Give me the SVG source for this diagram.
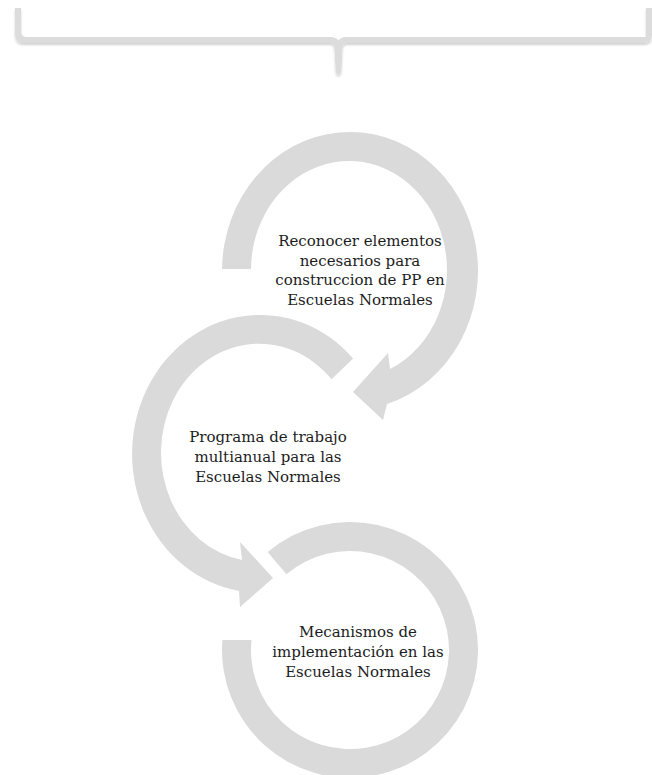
<svg xmlns="http://www.w3.org/2000/svg" width="652" height="775" viewBox="0 0 652 775">
<style>
  .ring { fill: #dadada; }
  .brace { fill: #dcdcdc; }
  .lbl { font-family: "DejaVu Serif", "Liberation Serif", serif; font-size: 15px; fill: #1c1c1c; text-anchor: middle; }
</style>
<defs>
  <filter id="sh" x="-5%" y="-50%" width="110%" height="200%">
    <feDropShadow dx="0" dy="2" stdDeviation="1.2" flood-color="#000" flood-opacity="0.18"/>
  </filter>
</defs>
<rect width="652" height="775" fill="#fff"/>
<g id="brace" filter="url(#sh)">
  <path class="brace" d="M15,8 L21,8 L21,31 Q21,37 27,37 L331,37 Q336,37 338.5,40.5 Q341,37 346,37 L646,37 L646,8 L652,8 L652,35 Q652,43 644,43 L346,43 Q343,43.5 342.5,48 L341.3,72 Q338.5,77 335.7,72 L334.5,48 Q334,43.5 331,43 L24,43 Q15,43 15,34 Z"/>
</g>
<g id="connectors">
  <path id="arrow1" class="ring" d="M222,269 A128 139 0 1 1 387,404 L383,420 L353,392 L388,353 L390,369 A98 109 0 1 0 251,269 Z"/>
  <path id="arrow2" class="ring" d="M353.1,358.4 A128 139 0 1 0 239,591 L240,607 L273,578 L240,542 L242,560 A98 109 0 1 1 331.5,379.3 Z"/>
  <path id="arrow3" class="ring" d="M267.7,551.9 A128 128 0 1 1 222.4,640 L251.5,640 A99 99 0 1 0 286.4,574.2 Z"/>
</g>
<g id="node1">
  <text class="lbl" x="360" y="246">Reconocer elementos</text>
  <text class="lbl" x="360" y="265.5">necesarios para</text>
  <text class="lbl" x="360" y="285">construccion de PP en</text>
  <text class="lbl" x="360" y="304.5">Escuelas Normales</text>
</g>
<g id="node2">
  <text class="lbl" x="268" y="441.5">Programa de trabajo</text>
  <text class="lbl" x="268" y="461.5">multianual para las</text>
  <text class="lbl" x="268" y="481.5">Escuelas Normales</text>
</g>
<g id="node3">
  <text class="lbl" x="358" y="637">Mecanismos de</text>
  <text class="lbl" x="358" y="657">implementación en las</text>
  <text class="lbl" x="358" y="677">Escuelas Normales</text>
</g>
</svg>
